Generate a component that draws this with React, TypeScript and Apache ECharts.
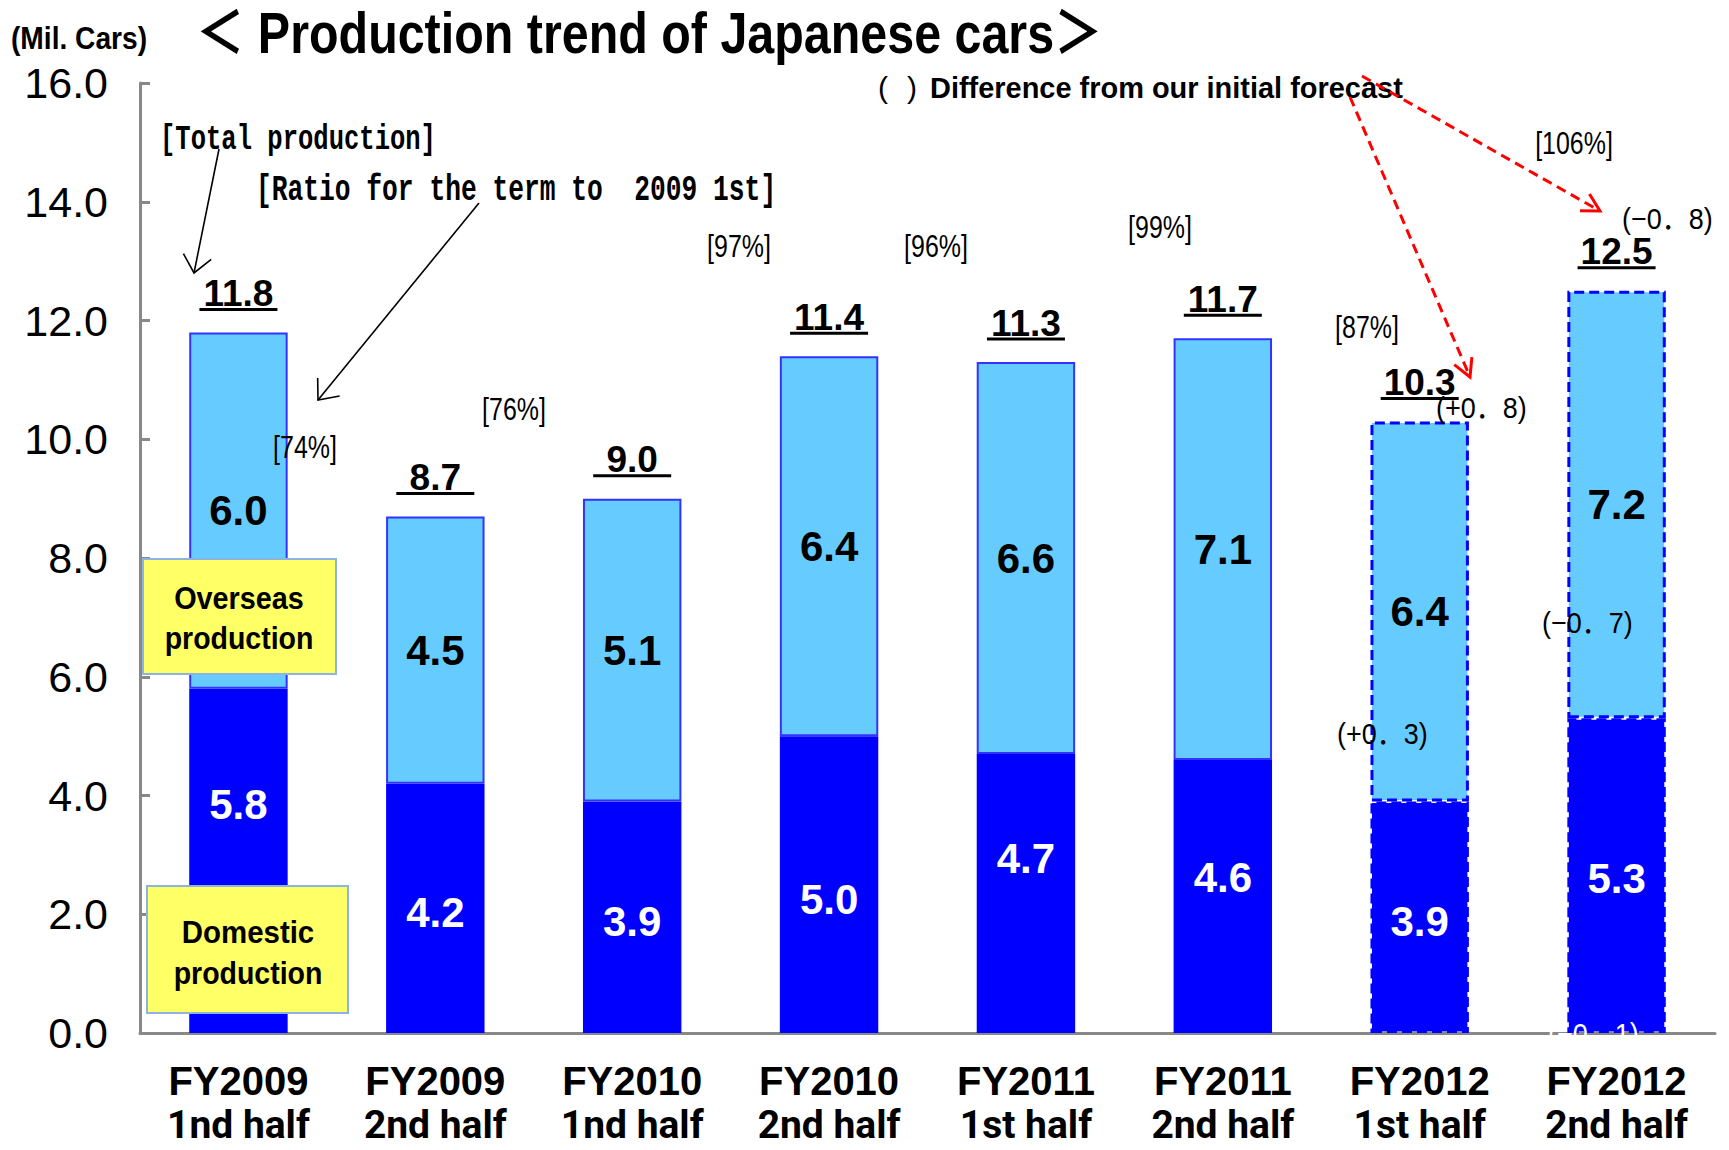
import React, { useEffect, useRef } from "react";
import * as echarts from "echarts";

// ---------- data ----------
const fiscalYears = ["FY2009", "FY2009", "FY2010", "FY2010", "FY2011", "FY2011", "FY2012", "FY2012"];
const halves = ["1nd half", "2nd half", "1nd half", "2nd half", "1st half", "2nd half", "1st half", "2nd half"];
const domestic = [5.8, 4.2, 3.9, 5.0, 4.7, 4.6, 3.9, 5.3];
const overseas = [6.0, 4.5, 5.1, 6.4, 6.6, 7.1, 6.4, 7.2];
const totals = [11.8, 8.7, 9.0, 11.4, 11.3, 11.7, 10.3, 12.5];
const isForecast = [false, false, false, false, false, false, true, true];
const yMin = 0;
const yMax = 16;
const yStep = 2;
const ratioLabels = ["[74%]", "[76%]", "[97%]", "[96%]", "[99%]", "[87%]", "[106%]"];
const forecastDiffs = ["(+0．8)", "(+0．3)", "(−0．8)", "(−0．7)", "(−0．1)"];

// ---------- styles / layout ----------
const FONT = '"Liberation Sans", "Noto Sans CJK JP", sans-serif';
const MONO = '"Liberation Mono", "DejaVu Sans Mono", monospace';
const NARROW = 'Roboto, "Liberation Sans", sans-serif';
const domesticLabelShift = [-56, 4, 4, 15, -35, -19, 4, 3];
const ratioPos = [[305, 447], [514, 409], [739, 246], [936, 246], [1160, 227], [1367, 327], [1574, 143]];
const diffPos = [[1436, 407], [1337, 733], [1622, 218], [1542, 622], [1548, 1033]];
const diffColor = ["#000", "#000", "#000", "#000", "#fff"];

type TOpt = { size: number; weight?: string; family?: string; sx?: number; color?: string; align?: string; z?: number };
const txt = (text: string, x: number, y: number, o: TOpt) => ({
  type: "text",
  x,
  y,
  scaleX: o.sx ?? 1,
  z: o.z ?? 100,
  style: {
    text,
    fill: o.color ?? "#000",
    font: `${o.weight ?? "normal"} ${o.size}px ${o.family ?? FONT}`,
    textAlign: o.align ?? "left",
    textVerticalAlign: "middle",
  },
});

const arrow = (x1: number, y1: number, x2: number, y2: number, color: string, width: number, dash: number[] | null, head: number, spread: number) => {
  const ang = Math.atan2(y2 - y1, x2 - x1) + Math.PI;
  const a1 = ang - spread;
  const a2 = ang + spread;
  return [
    { type: "line", z: 100, shape: { x1, y1, x2, y2 }, style: { stroke: color, lineWidth: width, lineDash: dash || undefined } },
    {
      type: "polyline",
      z: 100,
      shape: { points: [[x2 + head * Math.cos(a1), y2 + head * Math.sin(a1)], [x2, y2], [x2 + head * Math.cos(a2), y2 + head * Math.sin(a2)]] },
      style: { stroke: color, lineWidth: width, fill: null },
    },
  ];
};

export default function App() {
  const ref = useRef<HTMLDivElement>(null);
  useEffect(() => {
    document.body.style.margin = "0";
    const chart = echarts.init(ref.current!, null, { renderer: "svg" });

    const categories = fiscalYears.map((f, i) => `${f}\n${halves[i]}`);
    const forecastStyle = { borderType: [10, 5], borderColor: "#0000FF", borderWidth: 3 };

    const graphics: any[] = [
      txt("(Mil. Cars)", 11, 38, { size: 32, weight: "bold", sx: 0.88 }),
      txt("＜ Production trend of Japanese cars＞", 196, 33, { size: 58, weight: "bold", sx: 0.835 }),
      txt("(", 878, 87, { size: 30 }),
      txt(")", 907, 87, { size: 30 }),
      txt("Difference from our initial forecast", 930, 87, { size: 30, weight: "bold", sx: 0.965 }),
      txt("[Total production]", 160, 139, { size: 36, weight: "bold", family: MONO, sx: 0.71 }),
      txt("[Ratio for the term to  2009 1st]", 256, 190, { size: 36, weight: "bold", family: MONO, sx: 0.73 }),
      ...arrow(219, 149, 194, 273, "#000", 1.6, null, 22, 0.7),
      ...arrow(479, 203, 318, 400, "#000", 1.6, null, 22, 0.7),
      ...arrow(1350, 97, 1470, 377, "#FF0000", 3, [10, 6], 20, 0.5),
      ...arrow(1362, 76, 1600, 211, "#FF0000", 3, [10, 6], 20, 0.5),
      { type: "rect", z: 90, shape: { x: 143, y: 559, width: 193, height: 115 }, style: { fill: "#FFFF66", stroke: "#8DB3E2", lineWidth: 2 } },
      txt("Overseas", 239, 597, { size: 32, weight: "bold", sx: 0.9, align: "center" }),
      txt("production", 239, 638, { size: 32, weight: "bold", sx: 0.89, align: "center" }),
      { type: "rect", z: 90, shape: { x: 147, y: 886, width: 201, height: 127 }, style: { fill: "#FFFF66", stroke: "#8DB3E2", lineWidth: 2 } },
      txt("Domestic", 248, 932, { size: 32, weight: "bold", sx: 0.92, align: "center" }),
      txt("production", 248, 973, { size: 32, weight: "bold", sx: 0.89, align: "center" }),
      ...ratioLabels.map((t, i) => txt(t, ratioPos[i][0], ratioPos[i][1], { size: 32, sx: 0.78, align: "center" })),
      ...forecastDiffs.map((t, i) => txt(t, diffPos[i][0], diffPos[i][1], { size: 30, sx: 0.9, color: diffColor[i] })),
    ];

    const option: any = {
      animation: false,
      textStyle: { fontFamily: FONT },
      grid: { left: 140, right: 14, top: 83, bottom: 117, containLabel: false },
      xAxis: {
        type: "category",
        data: categories,
        axisLine: { lineStyle: { color: "#888", width: 3 } },
        axisTick: { inside: true, length: 10, lineStyle: { color: "#888", width: 3 } },
        axisLabel: {
          interval: 0,
          margin: 26,
          formatter: (v: string) => {
            const [a, b] = v.split("\n");
            return `{a|${a}}\n{b|${b}}`;
          },
          rich: {
            a: { fontSize: 40, fontWeight: "bold", color: "#000", fontFamily: FONT, lineHeight: 44 },
            b: { fontSize: 39, fontWeight: "bold", color: "#000", fontFamily: NARROW, lineHeight: 44 },
          },
        },
      },
      yAxis: {
        type: "value",
        min: yMin,
        max: yMax,
        interval: yStep,
        axisLine: { show: true, lineStyle: { color: "#888", width: 3 } },
        axisTick: { show: true, inside: true, length: 10, lineStyle: { color: "#888", width: 3 } },
        splitLine: { show: false },
        axisLabel: { formatter: (v: number) => v.toFixed(1), fontSize: 43, color: "#000", margin: 32 },
      },
      series: [
        {
          name: "Domestic production",
          type: "bar",
          stack: "total",
          barWidth: "50%",
          itemStyle: { color: "#0000FF" },
          label: {
            show: true,
            position: "inside",
            color: "#fff",
            fontSize: 42,
            fontWeight: "bold",
            textBorderWidth: 0,
            formatter: (p: any) => Number(p.value).toFixed(1),
          },
          data: domestic.map((v, i) => ({
            value: v,
            itemStyle: isForecast[i] ? forecastStyle : {},
            label: { offset: [0, domesticLabelShift[i]] },
          })),
        },
        {
          name: "Overseas production",
          type: "bar",
          stack: "total",
          barWidth: "50%",
          itemStyle: { color: "#66CCFF", borderColor: "#3333FF", borderWidth: 2 },
          label: {
            show: true,
            position: "inside",
            color: "#000",
            fontSize: 42,
            fontWeight: "bold",
            textBorderWidth: 0,
            formatter: (p: any) => Number(p.value).toFixed(1),
          },
          data: overseas.map((v, i) => ({ value: v, itemStyle: isForecast[i] ? forecastStyle : {} })),
        },
        {
          name: "Total",
          type: "custom",
          z: 10,
          encode: { x: 0, y: 1 },
          data: totals.map((v, i) => [i, v]),
          renderItem: (_params: any, api: any) => {
            const v = api.value(1);
            const [x, y] = api.coord([api.value(0), v]);
            return {
              type: "group",
              children: [
                {
                  type: "text",
                  x,
                  y: y - 39,
                  style: {
                    text: Number(v).toFixed(1),
                    textAlign: "center",
                    textVerticalAlign: "middle",
                    font: `bold 37px ${FONT}`,
                    fill: "#000",
                  },
                },
                { type: "line", shape: { x1: x - 39, y1: y - 23, x2: x + 39, y2: y - 23 }, style: { stroke: "#000", lineWidth: 3 } },
              ],
            };
          },
        },
      ],
      graphic: { elements: graphics },
    };
    chart.setOption(option);
    return () => chart.dispose();
  }, []);
  return <div ref={ref} style={{ width: 1729, height: 1150 }} />;
}
